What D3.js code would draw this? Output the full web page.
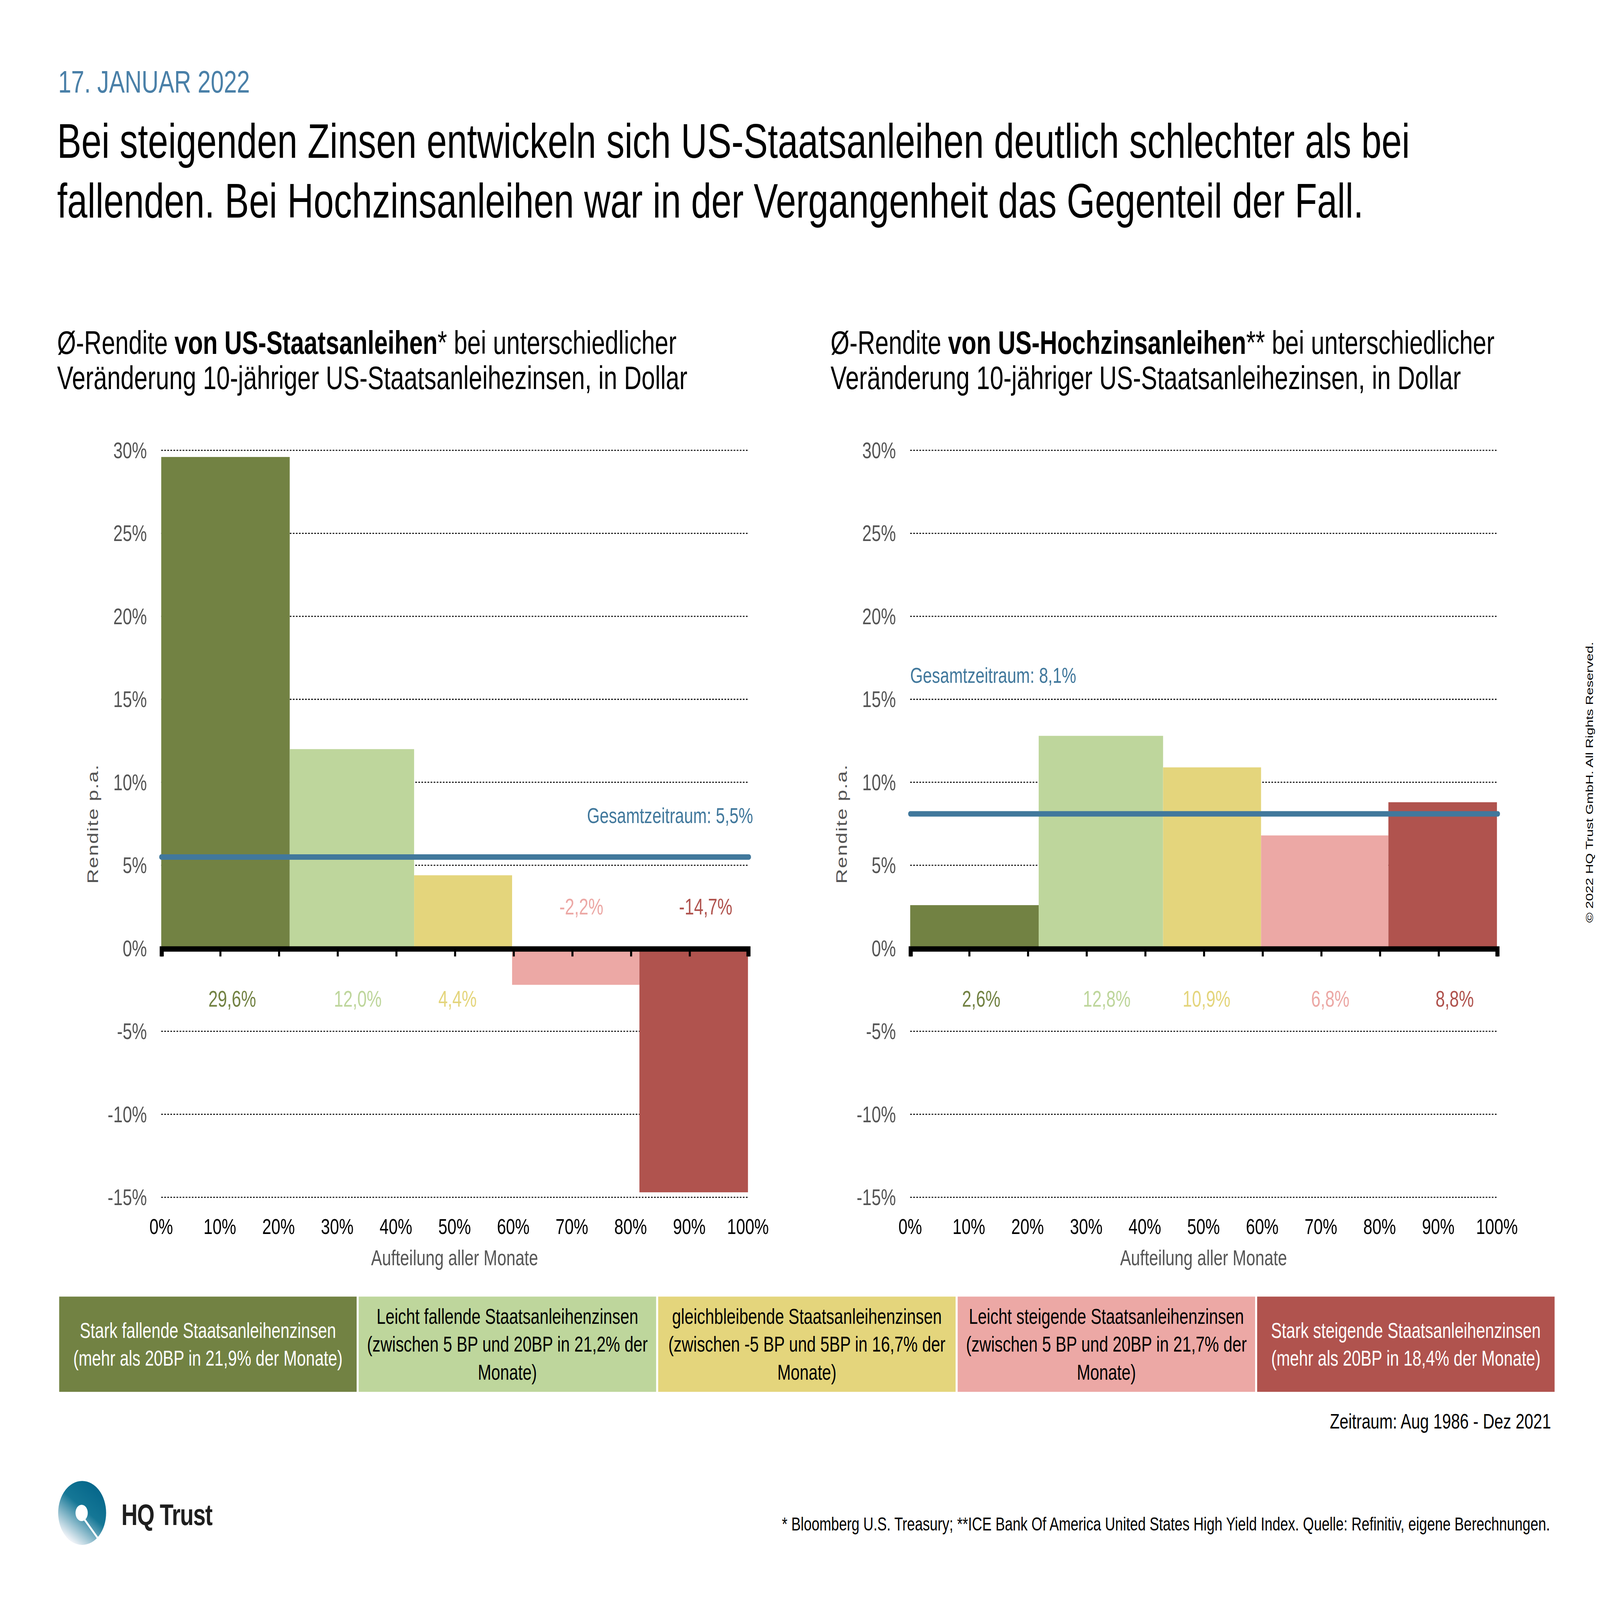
<!DOCTYPE html>
<html>
<head>
<meta charset="utf-8">
<script src="https://cdn.jsdelivr.net/npm/d3@7"></script>
<style>
  html, body { margin: 0; padding: 0; background: #fff; overflow: hidden; }
  #chart svg { display: block; width: 100vw; height: 100vh; }
  text { font-family: "Liberation Sans", Arial, sans-serif; }
</style>
</head>
<body>
<div id="chart"></div>
<script>
// Data
var legendLines = [
  ["Stark fallende Staatsanleihenzinsen", "(mehr als 20BP in 21,9% der Monate)"],
  ["Leicht fallende Staatsanleihenzinsen", "(zwischen 5 BP und 20BP in 21,2% der", "Monate)"],
  ["gleichbleibende Staatsanleihenzinsen", "(zwischen -5 BP und 5BP in 16,7% der", "Monate)"],
  ["Leicht steigende Staatsanleihenzinsen", "(zwischen 5 BP und 20BP in 21,7% der", "Monate)"],
  ["Stark steigende Staatsanleihenzinsen", "(mehr als 20BP in 18,4% der Monate)"]
];
var monthShares = [21.9, 21.2, 16.7, 21.7, 18.4];
var treasuryReturns = [29.6, 12.0, 4.4, -2.2, -14.7];
var highYieldReturns = [2.6, 12.8, 10.9, 6.8, 8.8];
var averages = [5.5, 8.1];
var yTicks = [-15, -10, -5, 0, 5, 10, 15, 20, 25, 30];
var xTicks = [0, 10, 20, 30, 40, 50, 60, 70, 80, 90, 100];

var palette = ["#728243", "#bed69c", "#e4d57c", "#eca8a5", "#b0534e"];
var legendTextColor = ["#fff", "#000", "#000", "#000", "#fff"];
var labelNudge = [1.15, 1.0, -0.95, 0.95, 2.05]; // label shift from bar centre, in axis units
var blue = "#41789c";

var de = d3.formatLocale({decimal: ",", thousands: ".", grouping: [3], currency: ["", "€"], minus: "-"});
var fmt1 = de.format(".1f");

// everything is laid out in a 1568 x 1176 space and stretched to the window
var svg = d3.select("#chart")
  .append("svg")
  .attr("viewBox", "0 0 1568 1176")
  .attr("preserveAspectRatio", "none");

svg.append("rect").attr("width", 1568).attr("height", 1176).attr("fill", "#fff");

// Header
svg.append("text")
  .attr("x", 57).attr("y", 68)
  .attr("fill", "#4a80a8")
  .style("font-size", "23px")
  .text("17. JANUAR 2022");

svg.append("text")
  .attr("x", 56).attr("y", 116)
  .style("font-size", "35.6px")
  .text("Bei steigenden Zinsen entwickeln sich US-Staatsanleihen deutlich schlechter als bei");

svg.append("text")
  .attr("x", 56).attr("y", 160)
  .style("font-size", "35.6px")
  .text("fallenden. Bei Hochzinsanleihen war in der Vergangenheit das Gegenteil der Fall.");

// cumulative x positions of the bars
var starts = [];
var acc = 0;
monthShares.forEach(function(s) { starts.push(acc); acc += s; });

function barEnd(i) {
  return i === monthShares.length - 1 ? 100 : starts[i] + monthShares[i];
}

var yScale = d3.scaleLinear().domain([-15, 30]).range([880, 331]);

function drawChart(x0, x1, values, avg, title, avgLabel) {
  var xScale = d3.scaleLinear().domain([0, 100]).range([x0, x1]);
  var g = svg.append("g");

  // subtitle
  var t = g.append("text").attr("x", title.x).attr("y", 260).style("font-size", "23.8px");
  t.append("tspan").text(title.parts[0]);
  t.append("tspan").style("font-weight", "bold").text(title.parts[1]);
  t.append("tspan").text(title.parts[2]);
  g.append("text").attr("x", title.x).attr("y", 286).style("font-size", "23.8px")
    .text("Veränderung 10-jähriger US-Staatsanleihezinsen, in Dollar");

  // grid
  g.selectAll(".grid")
    .data(yTicks.filter(function(d) { return d !== 0; }))
    .enter().append("line")
    .attr("x1", xScale(0)).attr("x2", xScale(100))
    .attr("y1", function(d) { return yScale(d); })
    .attr("y2", function(d) { return yScale(d); })
    .attr("stroke", "#000")
    .attr("stroke-width", 0.8)
    .attr("stroke-dasharray", "1.6,1.4");

  // y axis labels
  var leftAxis = d3.axisLeft(yScale).tickValues(yTicks)
    .tickFormat(function(d) { return d + "%"; }).tickSize(0).tickPadding(14);
  var ay = g.append("g").attr("transform", "translate(" + x0 + ",0)").call(leftAxis);
  ay.select(".domain").remove();
  ay.selectAll("text").attr("fill", "#555").style("font-size", "16.5px")
    .style("font-family", "Liberation Sans, Arial, sans-serif");

  g.append("text")
    .attr("transform", "translate(" + (x0 - 62) + "," + yScale(7.5) + ") rotate(-90)")
    .attr("text-anchor", "middle")
    .attr("fill", "#555")
    .style("font-size", "15px")
    .style("letter-spacing", "0.6px")
    .text("Rendite p.a.");

  // bars
  g.selectAll(".bar")
    .data(values)
    .enter().append("rect")
    .attr("x", function(d, i) { return xScale(starts[i]); })
    .attr("width", function(d, i) { return xScale(barEnd(i)) - xScale(starts[i]); })
    .attr("y", function(d) { return yScale(Math.max(0, d)); })
    .attr("height", function(d) { return Math.abs(yScale(d) - yScale(0)); })
    .attr("fill", function(d, i) { return palette[i]; });

  // x axis at 0
  var bottomAxis = d3.axisBottom(xScale).tickValues(xTicks).tickSize(6).tickFormat("");
  var ax = g.append("g").attr("transform", "translate(0," + yScale(0) + ")").call(bottomAxis);
  ax.select(".domain").attr("stroke-width", 4).attr("stroke", "#000");
  ax.selectAll(".tick line").attr("stroke-width", 2).attr("stroke", "#000");

  // x tick labels at the bottom
  g.selectAll(".xl")
    .data(xTicks)
    .enter().append("text")
    .attr("x", function(d) { return xScale(d); })
    .attr("y", 907)
    .attr("text-anchor", "middle")
    .style("font-size", "16px")
    .text(function(d) { return d + "%"; });

  g.append("text")
    .attr("x", (x0 + x1) / 2).attr("y", 930)
    .attr("text-anchor", "middle")
    .attr("fill", "#555")
    .style("font-size", "16px")
    .text("Aufteilung aller Monate");

  // value labels: positive ones below the axis, negative ones above
  g.selectAll(".vl")
    .data(values)
    .enter().append("text")
    .attr("x", function(d, i) { return xScale((starts[i] + barEnd(i)) / 2 + labelNudge[i]); })
    .attr("y", function(d) { return d < 0 ? 672 : 740; })
    .attr("text-anchor", "middle")
    .attr("fill", function(d, i) { return palette[i]; })
    .style("font-size", "16.5px")
    .text(function(d) { return fmt1(d) + "%"; });

  // average line
  g.append("line")
    .attr("x1", xScale(0)).attr("x2", xScale(100) + 1)
    .attr("y1", yScale(avg)).attr("y2", yScale(avg))
    .attr("stroke", blue)
    .attr("stroke-width", 4)
    .attr("stroke-linecap", "round");

  g.append("text")
    .attr("x", avgLabel.x).attr("y", avgLabel.y)
    .attr("text-anchor", avgLabel.anchor)
    .attr("fill", blue)
    .style("font-size", "16px")
    .text("Gesamtzeitraum: " + fmt1(avg) + "%");
}

drawChart(158, 733, treasuryReturns, averages[0],
  {x: 56, parts: ["Ø-Rendite ", "von US-Staatsanleihen", "* bei unterschiedlicher"]},
  {x: 738, y: 605, anchor: "end"});

drawChart(892, 1467, highYieldReturns, averages[1],
  {x: 814, parts: ["Ø-Rendite ", "von US-Hochzinsanleihen", "** bei unterschiedlicher"]},
  {x: 892, y: 502, anchor: "start"});

// legend boxes
var boxW = 291.5, boxGap = 2, boxX0 = 58, boxY = 953, boxH = 70;
var legend = svg.selectAll(".lg")
  .data(legendLines)
  .enter().append("g")
  .attr("transform", function(d, i) { return "translate(" + (boxX0 + i * (boxW + boxGap)) + "," + boxY + ")"; });

legend.append("rect")
  .attr("width", boxW).attr("height", boxH)
  .attr("fill", function(d, i) { return palette[i]; });

legend.each(function(lines, i) {
  var n = lines.length;
  var gl = d3.select(this);
  lines.forEach(function(line, j) {
    gl.append("text")
      .attr("x", boxW / 2)
      .attr("y", boxH / 2 + (j - (n - 1) / 2) * 20.5 + 5.5)
      .attr("text-anchor", "middle")
      .attr("fill", legendTextColor[i])
      .style("font-size", "15.8px")
      .text(line);
  });
});

svg.append("text")
  .attr("x", 1520).attr("y", 1050)
  .attr("text-anchor", "end")
  .style("font-size", "15.6px")
  .text("Zeitraum: Aug 1986 - Dez 2021");

svg.append("text")
  .attr("x", 1519).attr("y", 1125)
  .attr("text-anchor", "end")
  .style("font-size", "13.8px")
  .text("* Bloomberg U.S. Treasury; **ICE Bank Of America United States High Yield Index. Quelle: Refinitiv, eigene Berechnungen.");

svg.append("text")
  .attr("transform", "translate(1561,575) rotate(-90)")
  .attr("text-anchor", "middle")
  .style("font-size", "10.2px")
  .text("© 2022 HQ Trust GmbH. All Rights Reserved.");

// logo: gradient disc with a keyhole cut
var defs = svg.append("defs");
var grad = defs.append("linearGradient").attr("id", "lg1")
  .attr("x1", "0.85").attr("y1", "0.1").attr("x2", "0.3").attr("y2", "0.95");
grad.append("stop").attr("offset", "0").attr("stop-color", "#05668a");
grad.append("stop").attr("offset", "0.45").attr("stop-color", "#157796");
grad.append("stop").attr("offset", "1").attr("stop-color", "#eef2f7");

svg.append("circle").attr("cx", 80.5).attr("cy", 1112).attr("r", 23.5).attr("fill", "url(#lg1)");
svg.append("circle").attr("cx", 80).attr("cy", 1112).attr("r", 6).attr("fill", "#fff");
svg.append("line")
  .attr("x1", 82).attr("y1", 1116).attr("x2", 102).attr("y2", 1137)
  .attr("stroke", "#fff").attr("stroke-width", 1.6);

svg.append("text")
  .attr("x", 119).attr("y", 1121)
  .attr("fill", "#1e1e1e")
  .style("font-size", "22px")
  .style("font-weight", "bold")
  .style("letter-spacing", "-0.5px")
  .text("HQ Trust");
</script>
</body>
</html>
